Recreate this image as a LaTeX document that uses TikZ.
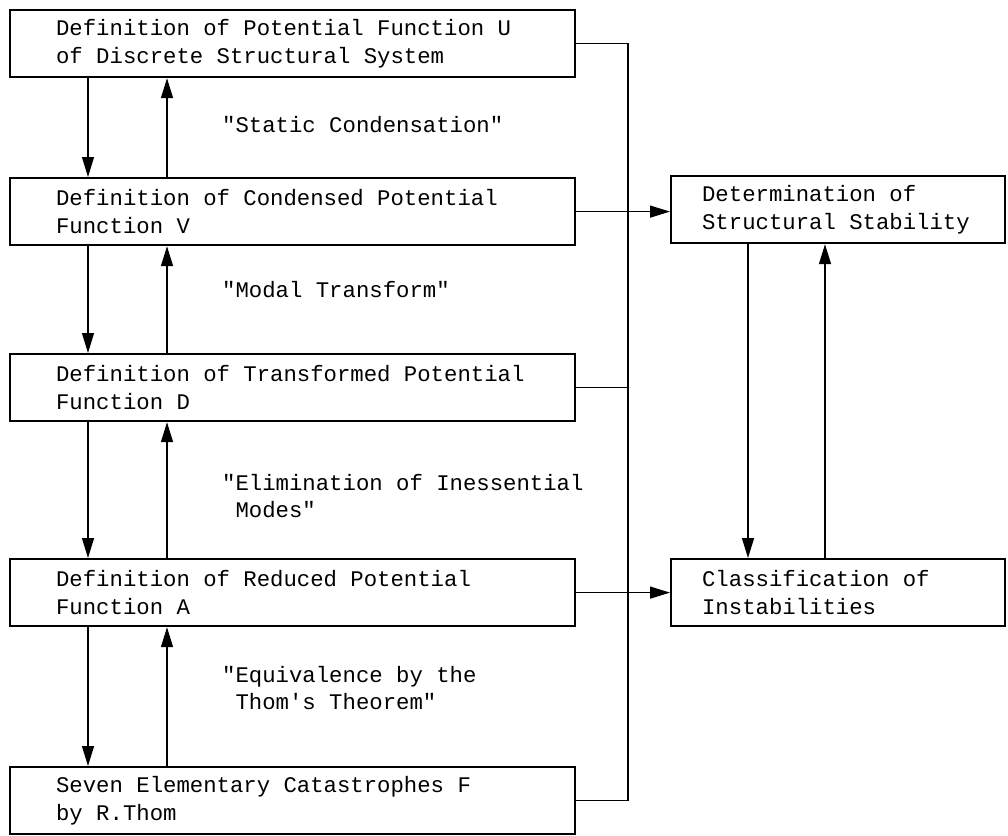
\documentclass[tikz,border=0pt]{standalone}
\usepackage{fontspec}
\setmonofont{Liberation Mono}
\usepackage{tikz}
\usetikzlibrary{arrows.meta,positioning}
\newcommand{\fs}{\ttfamily\fontsize{22.3}{27.5}\selectfont}
\tikzset{
  ar/.style={-{Triangle[length=20pt,width=12pt]},line width=1.4pt},
  ln/.style={line width=1.7pt},
  lbox/.style={draw,line width=2.2pt,anchor=north west,minimum width=565pt,minimum height=67pt,text width=473pt,inner xsep=46pt,align=flush left,font=\fs},
  rbox/.style={draw,line width=2.2pt,anchor=north west,minimum width=334pt,minimum height=67pt,text width=272pt,inner xsep=31pt,align=flush left,font=\fs},
  lab/.style={anchor=west,inner sep=0pt,align=flush left,font=\fs}
}

\begin{document}
\begin{tikzpicture}[x=1pt,y=-1pt]
\useasboundingbox (0,0) rectangle (1008,835);
\node[lbox] (U) at (9,9) {Definition of Potential Function U\\of Discrete Structural System};
\node[lbox] (V) at (9,177) {Definition of Condensed Potential\\Function V};
\node[lbox] (D) at (9,353) {Definition of Transformed Potential\\Function D};
\node[lbox] (A) at (9,558) {Definition of Reduced Potential\\Function A};
\node[lbox] (F) at (9,766) {Seven Elementary Catastrophes F\\by R.Thom};
\node[rbox] (S) at (670,175) {Determination of\\Structural Stability};
\node[rbox] (C) at (670,558) {Classification of\\Instabilities};
\node[lab] (l1) at (222,125) {"Static Condensation"};
\node[lab] (l2) at (222,290) {"Modal Transform"};
\node[lab] (l3) at (222,496) {"Elimination of Inessential\\\phantom{"}Modes"};
\node[lab] (l4) at (222,688) {"Equivalence by the\\\phantom{"}Thom's Theorem"};
\foreach \a/\b in {U/V,V/D,D/A,A/F}{
  \draw[ar] ([xshift=79pt]\a.south west) -- ([xshift=79pt]\b.north west);
  \draw[ar] ([xshift=158pt]\b.north west) -- ([xshift=158pt]\a.south west);
}
\draw[ar] ([xshift=78pt]S.south west) -- ([xshift=78pt]C.north west);
\draw[ar] ([xshift=155pt]C.north west) -- ([xshift=155pt]S.south west);
\coordinate (bus) at (628,0);
\draw[ln] (U.east) -- (U.east -| bus) -- (F.east -| bus) -- (F.east);
\draw[ln] (D.east) -- (D.east -| bus);
\draw[ar] (V.east) -- (V.east -| S.west);
\draw[ar] (A.east) -- (A.east -| C.west);
\end{tikzpicture}
\end{document}
